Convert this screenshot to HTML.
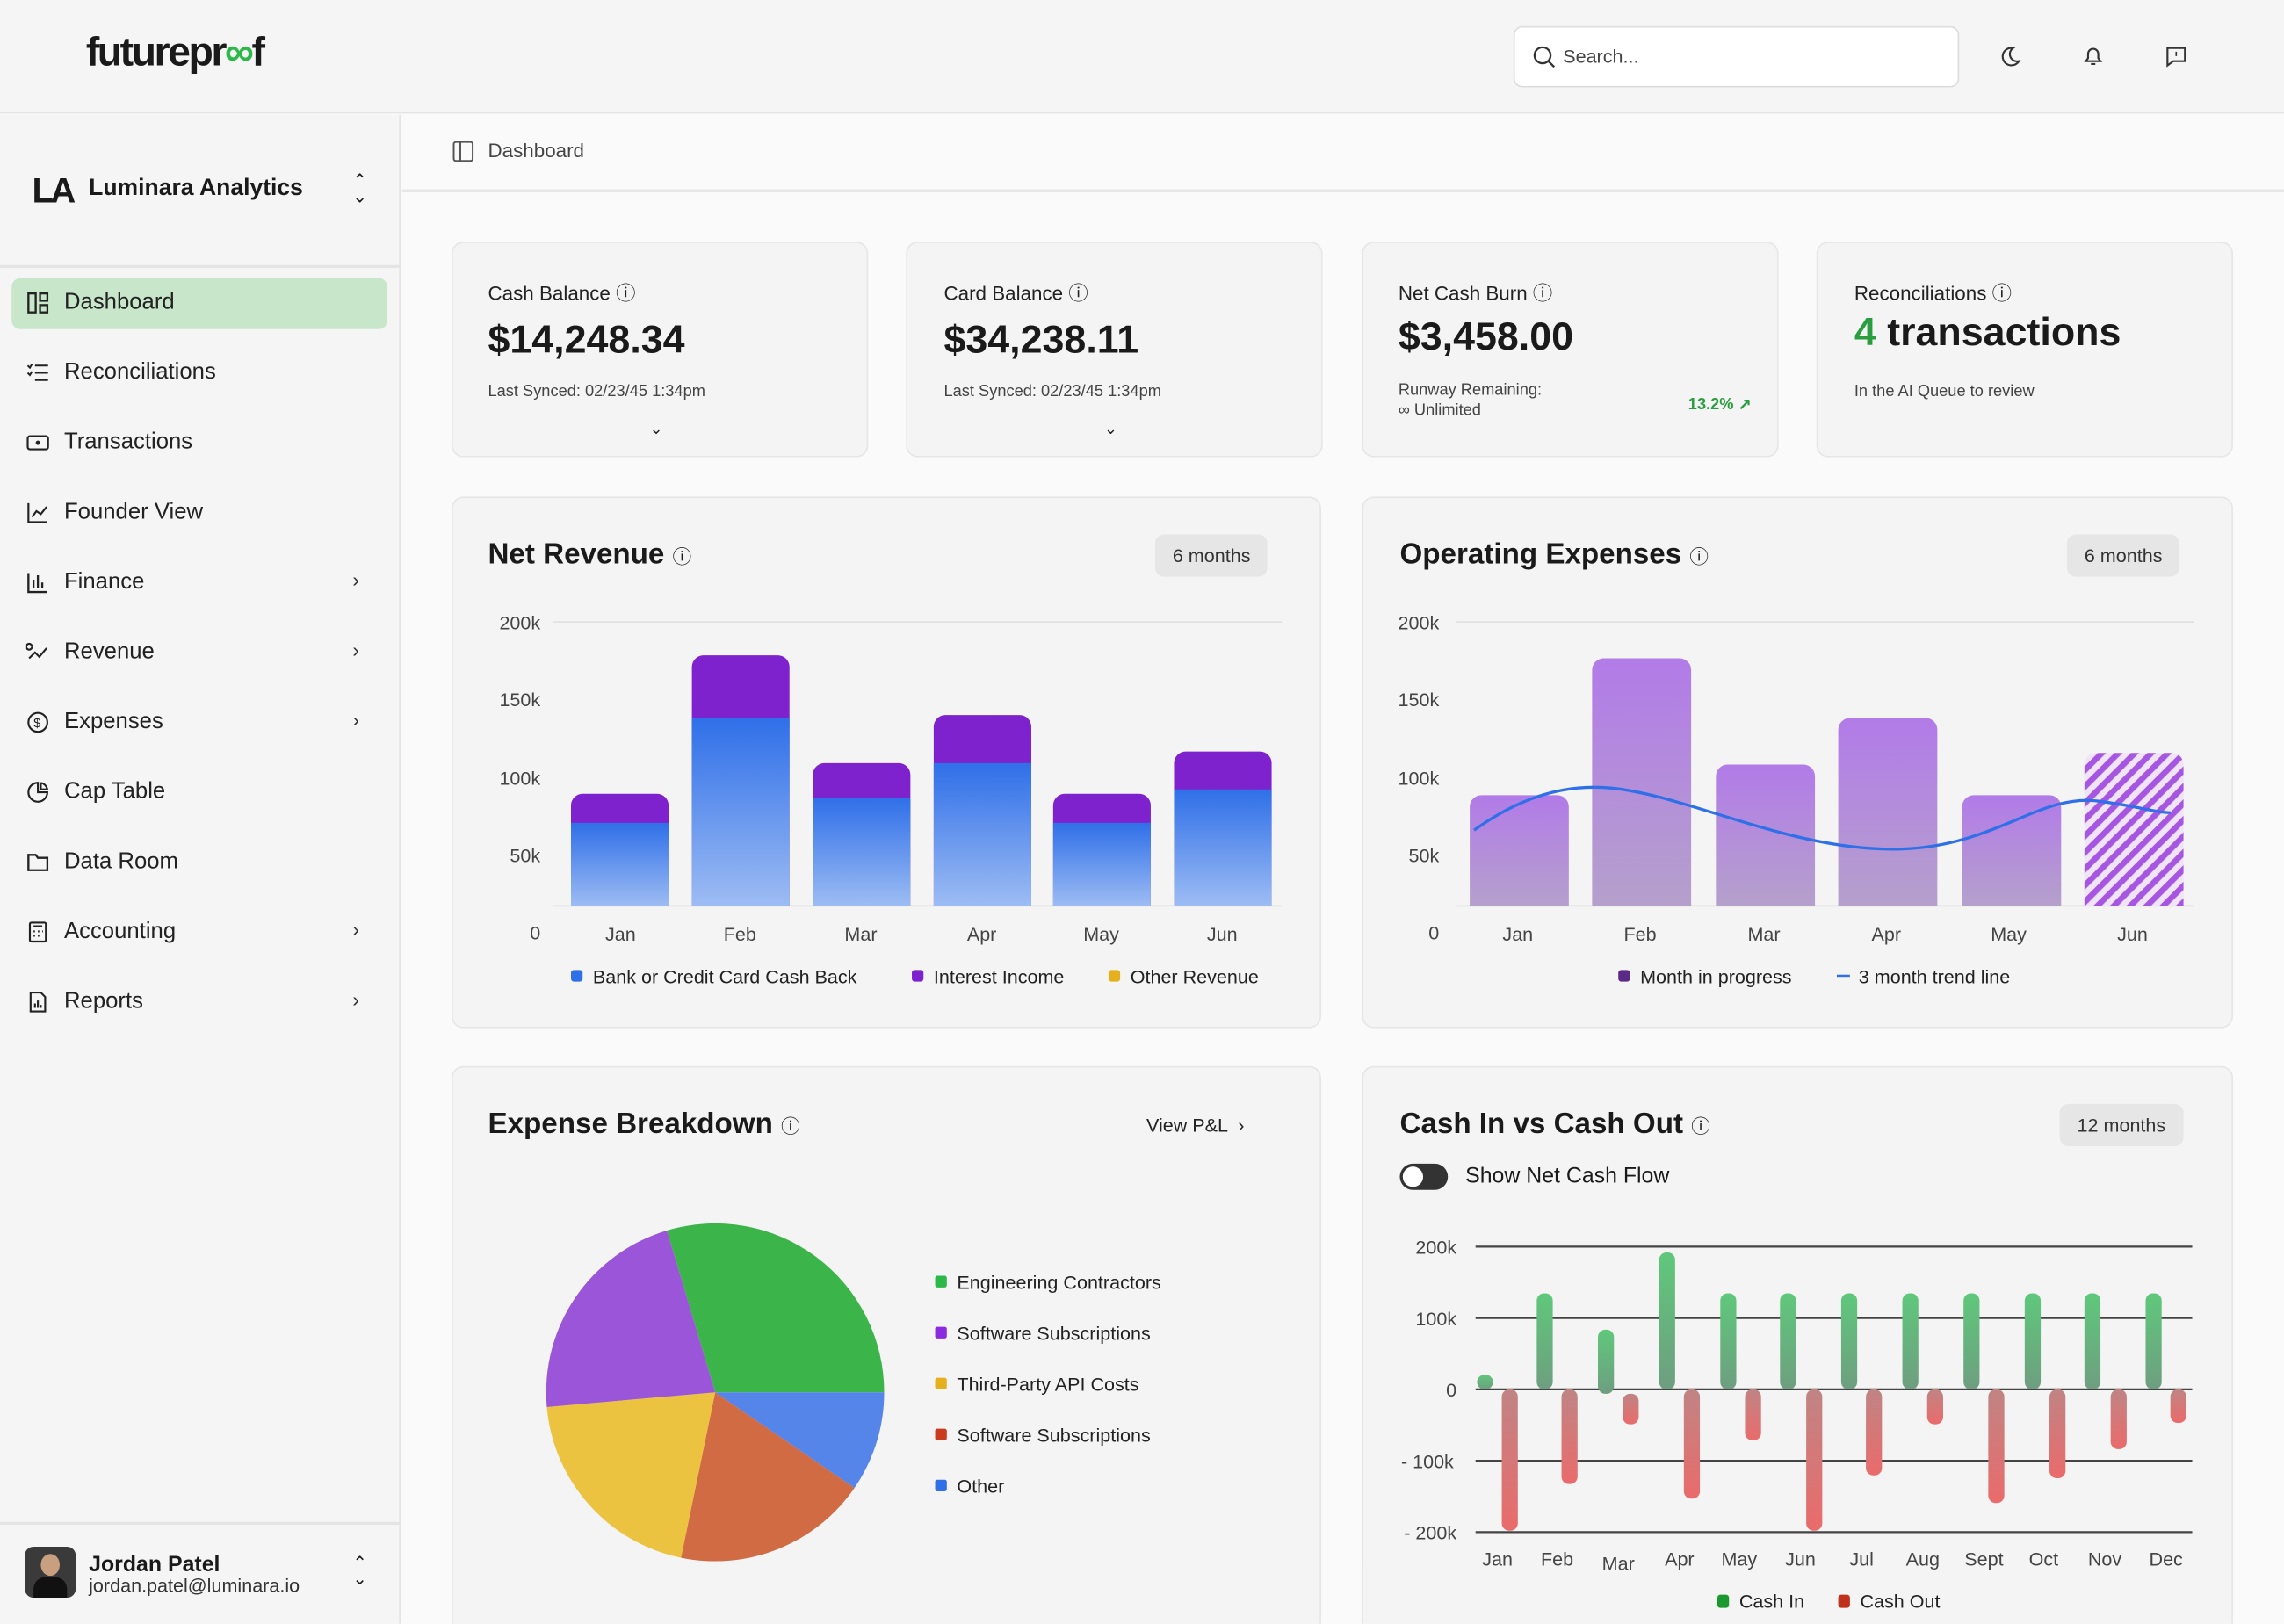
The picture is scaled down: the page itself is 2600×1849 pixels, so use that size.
<!DOCTYPE html>
<html><head><meta charset="utf-8"><style>
*{margin:0;padding:0;box-sizing:border-box}
html,body{width:2600px;height:1849px;overflow:hidden;background:#fafafa}
#w{position:absolute;left:0;top:0;width:1568px;height:1115px;transform:scale(1.65816);transform-origin:0 0;font-family:"Liberation Sans",sans-serif;color:#1a1a1a;background:#fafafa;overflow:hidden}
.a{position:absolute}
.card{position:absolute;background:#f4f4f4;border:1.5px solid #e6e6e6;border-radius:8px}
.nav{position:absolute;left:18px;font-size:15.5px;color:#222;display:flex;align-items:center;gap:10px}
.nav svg{width:16px;height:16px}
.chev{position:absolute;left:242px;font-size:14px;color:#333}
.t{position:absolute;font-size:13px;color:#222}
.pill{position:absolute;background:#e6e6e6;border-radius:6px;font-size:13px;color:#333;padding:7px 12px}
.lg{display:inline-block;width:8px;height:8px;border-radius:2px;margin-right:6px;vertical-align:0px}
</style></head><body><div id="w">
<!-- header -->
<div class="a" style="left:0;top:0;width:1568px;height:78px;background:#f5f5f5;border-bottom:1.5px solid #e4e4e4"></div>
<div class="a" style="left:59px;top:20px;font-size:28px;font-weight:bold;letter-spacing:-1.5px">futurepr<span style="color:#2db84a">∞</span>f</div>
<div class="a" style="left:1039px;top:18px;width:306px;height:42px;background:#fff;border:1px solid #ddd;border-radius:6px"></div>
<svg class="a" style="left:1052px;top:31px" width="16" height="16"><circle cx="7" cy="7" r="5.5" fill="none" stroke="#333" stroke-width="1.4"/><line x1="11" y1="11" x2="15" y2="15" stroke="#333" stroke-width="1.4"/></svg>
<div class="a" style="left:1073px;top:31px;font-size:13px;color:#444">Search...</div>
<svg class="a" style="left:1372px;top:31px" width="16" height="16"><path d="M10 2a6 6 0 1 0 4 9a5 5 0 0 1-4-9z" fill="none" stroke="#333" stroke-width="1.3"/></svg>
<svg class="a" style="left:1429px;top:30px" width="16" height="16"><path d="M3 12h10l-1.5-2V7a3.5 3.5 0 0 0-7 0v3z M6.5 14h3" fill="none" stroke="#333" stroke-width="1.3"/></svg>
<svg class="a" style="left:1486px;top:31px" width="16" height="16"><path d="M2 2h12v9H6l-4 3z" fill="none" stroke="#333" stroke-width="1.3"/><line x1="8" y1="4.5" x2="8" y2="7.5" stroke="#333"/></svg>
<!-- sidebar -->
<div class="a" style="left:0;top:79px;width:275px;height:1036px;background:#f5f5f5;border-right:1.5px solid #e4e4e4"></div>
<div class="a" style="left:0;top:182px;width:275px;height:1.5px;background:#e4e4e4"></div>
<div class="a" style="left:22px;top:118px;font-size:24px;font-weight:bold;letter-spacing:-2px">LA</div>
<div class="a" style="left:61px;top:121px;font-size:16px;font-weight:bold">Luminara Analytics</div>
<div class="a" style="left:242px;top:119px;font-size:12px;line-height:11px">⌃<br>⌄</div>
<div class="a" style="left:8px;top:191px;width:258px;height:35px;background:#c8e6c9;border-radius:6px"></div>
<div class="nav" style="top:199px"><svg viewBox="0 0 16 16"><rect x="1.5" y="1.5" width="5" height="13" fill="none" stroke="#222" stroke-width="1.4"/><rect x="9.5" y="1.5" width="5" height="5" fill="none" stroke="#222" stroke-width="1.4"/><rect x="9.5" y="9.5" width="5" height="5" fill="none" stroke="#222" stroke-width="1.4"/></svg>Dashboard</div>
<div class="nav" style="top:247px"><svg viewBox="0 0 16 16"><path d="M6 3h9M6 8h9M6 13h9M1 3l1.5 1.5L4 2M1 8l1.5 1.5L4 7" fill="none" stroke="#222" stroke-width="1.2"/></svg>Reconciliations</div>
<div class="nav" style="top:295px"><svg viewBox="0 0 16 16"><rect x="1" y="3.5" width="14" height="9" rx="1.5" fill="none" stroke="#222" stroke-width="1.3"/><circle cx="8" cy="8" r="1.5" fill="#222"/></svg>Transactions</div>
<div class="nav" style="top:343px"><svg viewBox="0 0 16 16"><path d="M1.5 1.5v13h13M4 11l3-4 3 2 4-5" fill="none" stroke="#222" stroke-width="1.3"/></svg>Founder View</div>
<div class="nav" style="top:391px"><svg viewBox="0 0 16 16"><path d="M1.5 1.5v13h13M5 12V6M8 12V3M11 12V8" fill="none" stroke="#222" stroke-width="1.4"/></svg>Finance</div>
<div class="nav" style="top:439px"><svg viewBox="0 0 16 16"><path d="M2 12l4-4 3 3 5-6M4 4a2 2 0 1 0 0 .1" fill="none" stroke="#222" stroke-width="1.3"/></svg>Revenue</div>
<div class="nav" style="top:487px"><svg viewBox="0 0 16 16"><circle cx="8" cy="8" r="6.5" fill="none" stroke="#222" stroke-width="1.3"/><text x="5" y="11.5" font-size="9" fill="#222">$</text></svg>Expenses</div>
<div class="nav" style="top:535px"><svg viewBox="0 0 16 16"><path d="M8 1.5A6.5 6.5 0 1 0 14.5 8H8z M10 1.5v4.5h4.5A6 6 0 0 0 10 1.5" fill="none" stroke="#222" stroke-width="1.3"/></svg>Cap Table</div>
<div class="nav" style="top:583px"><svg viewBox="0 0 16 16"><path d="M1.5 3h5l1.5 2h6.5v8.5h-13z" fill="none" stroke="#222" stroke-width="1.4"/></svg>Data Room</div>
<div class="nav" style="top:631px"><svg viewBox="0 0 16 16"><rect x="2.5" y="1.5" width="11" height="13" rx="1" fill="none" stroke="#222" stroke-width="1.3"/><path d="M5 4h6M5 7.5h1M8 7.5h1M11 7.5h0.5M5 10.5h1M8 10.5h1" stroke="#222" stroke-width="1.3"/></svg>Accounting</div>
<div class="nav" style="top:679px"><svg viewBox="0 0 16 16"><path d="M3 1.5h7l3 3v10H3z M6 12V9M8 12V7M10 12v-2" fill="none" stroke="#222" stroke-width="1.3"/></svg>Reports</div>
<div class="chev" style="top:390px">›</div><div class="chev" style="top:438px">›</div><div class="chev" style="top:486px">›</div><div class="chev" style="top:630px">›</div><div class="chev" style="top:678px">›</div>
<div class="a" style="left:0;top:1045px;width:275px;height:1.5px;background:#e4e4e4"></div>
<div class="a" style="left:17px;top:1062px;width:35px;height:35px;border-radius:6px;background:#3a3a3a"><div style="position:absolute;left:11px;top:5px;width:13px;height:15px;border-radius:50%;background:#c9a07f"></div><div style="position:absolute;left:6px;top:21px;width:23px;height:14px;border-radius:8px 8px 0 0;background:#111"></div></div>
<div class="a" style="left:61px;top:1066px;font-size:15px;font-weight:bold">Jordan Patel</div>
<div class="a" style="left:61px;top:1081px;font-size:13px;color:#333">jordan.patel@luminara.io</div>
<div class="a" style="left:242px;top:1068px;font-size:12px;line-height:11px">⌃<br>⌄</div>
<!-- breadcrumb -->
<div class="a" style="left:276px;top:130px;width:1292px;height:1.5px;background:#e6e6e6"></div>
<svg class="a" style="left:310px;top:96px" width="16" height="16"><rect x="1.5" y="1.5" width="13" height="13" rx="1.5" fill="none" stroke="#555" stroke-width="1.2"/><line x1="6" y1="1.5" x2="6" y2="14.5" stroke="#555" stroke-width="1.2"/></svg>
<div class="a" style="left:335px;top:96px;font-size:13.5px;color:#444">Dashboard</div>
<!-- stat cards -->
<div class="card" style="left:310px;top:166px;width:286px;height:148px"></div>
<div class="card" style="left:622px;top:166px;width:286px;height:148px"></div>
<div class="card" style="left:935px;top:166px;width:286px;height:148px"></div>
<div class="card" style="left:1247px;top:166px;width:286px;height:148px"></div>
<div class="t" style="left:335px;top:190px;font-size:13.5px">Cash Balance ⓘ</div>
<div class="a" style="left:335px;top:218px;font-size:27px;font-weight:bold">$14,248.34</div>
<div class="t" style="left:335px;top:263px;font-size:11px;color:#444">Last Synced: 02/23/45 1:34pm</div>
<div class="t" style="left:446px;top:288px;font-size:11px">⌄</div>
<div class="t" style="left:648px;top:190px;font-size:13.5px">Card Balance ⓘ</div>
<div class="a" style="left:648px;top:218px;font-size:27px;font-weight:bold">$34,238.11</div>
<div class="t" style="left:648px;top:263px;font-size:11px;color:#444">Last Synced: 02/23/45 1:34pm</div>
<div class="t" style="left:758px;top:288px;font-size:11px">⌄</div>
<div class="t" style="left:960px;top:190px;font-size:13.5px">Net Cash Burn ⓘ</div>
<div class="a" style="left:960px;top:216px;font-size:27px;font-weight:bold">$3,458.00</div>
<div class="t" style="left:960px;top:261px;font-size:11px;color:#444;line-height:14px">Runway Remaining:<br>∞ Unlimited</div>
<div class="t" style="left:1159px;top:271px;font-size:11px;color:#2a9d3f;font-weight:bold">13.2% ↗</div>
<div class="t" style="left:1273px;top:190px;font-size:13.5px">Reconciliations ⓘ</div>
<div class="a" style="left:1273px;top:213px;font-size:27px;font-weight:bold"><span style="color:#2a9d3f">4</span> transactions</div>
<div class="t" style="left:1273px;top:263px;font-size:11px;color:#444">In the AI Queue to review</div>
<!-- panels -->
<div class="card" style="left:310px;top:341px;width:597px;height:365px"></div>
<div class="card" style="left:935px;top:341px;width:598px;height:365px"></div>
<div class="card" style="left:310px;top:732px;width:597px;height:400px"></div>
<div class="card" style="left:935px;top:732px;width:598px;height:400px"></div>
<div class="a" style="left:335px;top:370px;font-size:20px;font-weight:bold">Net Revenue <span style="font-size:13px;font-weight:normal">ⓘ</span></div>
<div class="pill" style="left:793px;top:367px">6 months</div>
<div class="a" style="left:961px;top:370px;font-size:20px;font-weight:bold">Operating Expenses <span style="font-size:13px;font-weight:normal">ⓘ</span></div>
<div class="pill" style="left:1419px;top:367px">6 months</div>
<div class="a" style="left:335px;top:761px;font-size:20px;font-weight:bold">Expense Breakdown <span style="font-size:13px;font-weight:normal">ⓘ</span></div>
<div class="t" style="left:787px;top:765px">View P&amp;L &nbsp;›</div>
<div class="a" style="left:961px;top:761px;font-size:20px;font-weight:bold">Cash In vs Cash Out <span style="font-size:13px;font-weight:normal">ⓘ</span></div>
<div class="pill" style="left:1414px;top:758px">12 months</div>
<div class="a" style="left:961px;top:799px;width:33px;height:18px;border-radius:9px;background:#333"><div style="position:absolute;left:2px;top:2px;width:14px;height:14px;border-radius:50%;background:#fff"></div></div>
<div class="a" style="left:1006px;top:799px;font-size:15px">Show Net Cash Flow</div>

<svg class="a" style="left:0;top:0" width="1568" height="1115" font-family="Liberation Sans, sans-serif" font-size="13" fill="#444">
<defs>
<linearGradient id="bl" x1="0" y1="0" x2="0" y2="1"><stop offset="0" stop-color="#2f6fe8"/><stop offset="1" stop-color="#9dbcf3"/></linearGradient>
<linearGradient id="pu" x1="0" y1="0" x2="0" y2="1"><stop offset="0" stop-color="#b27be8"/><stop offset="1" stop-color="#b5a0cc"/></linearGradient>
<linearGradient id="gr" x1="0" y1="0" x2="0" y2="1"><stop offset="0" stop-color="#5fc87b"/><stop offset="1" stop-color="#6e9e80"/></linearGradient>
<linearGradient id="rd" x1="0" y1="0" x2="0" y2="1"><stop offset="0" stop-color="#c08484"/><stop offset="1" stop-color="#ea6b6b"/></linearGradient>
<pattern id="hat" width="8" height="8" patternUnits="userSpaceOnUse" patternTransform="rotate(45)"><rect width="8" height="8" fill="#efe4fa"/><rect width="4" height="8" fill="#a656e0"/></pattern>
</defs>
<!-- Net revenue -->
<g stroke="#e0e0e0" stroke-width="1"><line x1="380" y1="427" x2="880" y2="427"/><line x1="380" y1="622" x2="880" y2="622"/></g>
<g text-anchor="end"><text x="371" y="432">200k</text><text x="371" y="485">150k</text><text x="371" y="539">100k</text><text x="371" y="592">50k</text><text x="371" y="645">0</text></g>
<g>
<path d="M392 622V553a8 8 0 0 1 8-8h51a8 8 0 0 1 8 8V622z" fill="#7e22ce"/><rect x="392" y="565" width="67" height="57" fill="url(#bl)"/>
<path d="M475 622V458a8 8 0 0 1 8-8h51a8 8 0 0 1 8 8V622z" fill="#7e22ce"/><rect x="475" y="493" width="67" height="129" fill="url(#bl)"/>
<path d="M558 622V532a8 8 0 0 1 8-8h51a8 8 0 0 1 8 8V622z" fill="#7e22ce"/><rect x="558" y="548" width="67" height="74" fill="url(#bl)"/>
<path d="M641 622V499a8 8 0 0 1 8-8h51a8 8 0 0 1 8 8V622z" fill="#7e22ce"/><rect x="641" y="524" width="67" height="98" fill="url(#bl)"/>
<path d="M723 622V553a8 8 0 0 1 8-8h51a8 8 0 0 1 8 8V622z" fill="#7e22ce"/><rect x="723" y="565" width="67" height="57" fill="url(#bl)"/>
<path d="M806 622V524a8 8 0 0 1 8-8h51a8 8 0 0 1 8 8V622z" fill="#7e22ce"/><rect x="806" y="542" width="67" height="80" fill="url(#bl)"/>
</g>
<g text-anchor="middle"><text x="426" y="646">Jan</text><text x="508" y="646">Feb</text><text x="591" y="646">Mar</text><text x="674" y="646">Apr</text><text x="756" y="646">May</text><text x="839" y="646">Jun</text></g>
<g fill="#222"><rect x="392" y="666" width="8" height="8" rx="2" fill="#2f6fe8"/><text x="407" y="675">Bank or Credit Card Cash Back</text>
<rect x="626" y="666" width="8" height="8" rx="2" fill="#7e22ce"/><text x="641" y="675">Interest Income</text>
<rect x="761" y="666" width="8" height="8" rx="2" fill="#e5b01c"/><text x="776" y="675">Other Revenue</text></g>
<!-- Opex -->
<g stroke="#e0e0e0"><line x1="1000" y1="427" x2="1506" y2="427"/><line x1="1000" y1="622" x2="1506" y2="622"/></g>
<g text-anchor="end"><text x="988" y="432">200k</text><text x="988" y="485">150k</text><text x="988" y="539">100k</text><text x="988" y="592">50k</text><text x="988" y="645">0</text></g>
<path d="M1009 622V554a8 8 0 0 1 8-8h52a8 8 0 0 1 8 8V622z" fill="url(#pu)"/>
<path d="M1093 622V460a8 8 0 0 1 8-8h52a8 8 0 0 1 8 8V622z" fill="url(#pu)"/>
<path d="M1178 622V533a8 8 0 0 1 8-8h52a8 8 0 0 1 8 8V622z" fill="url(#pu)"/>
<path d="M1262 622V501a8 8 0 0 1 8-8h52a8 8 0 0 1 8 8V622z" fill="url(#pu)"/>
<path d="M1347 622V554a8 8 0 0 1 8-8h52a8 8 0 0 1 8 8V622z" fill="url(#pu)"/>
<path d="M1431 622V525a8 8 0 0 1 8-8h52a8 8 0 0 1 8 8V622z" fill="url(#hat)"/>
<path d="M1012 570C1040 550 1070 538 1105 541C1160 546 1230 585 1305 583C1370 581 1400 545 1440 550C1465 553 1480 558 1490 558" fill="none" stroke="#2f6fe8" stroke-width="2"/>
<g text-anchor="middle"><text x="1042" y="646">Jan</text><text x="1126" y="646">Feb</text><text x="1211" y="646">Mar</text><text x="1295" y="646">Apr</text><text x="1379" y="646">May</text><text x="1464" y="646">Jun</text></g>
<g fill="#222"><rect x="1111" y="666" width="8" height="8" rx="2" fill="#5b2a86"/><text x="1126" y="675">Month in progress</text>
<line x1="1261" y1="670" x2="1270" y2="670" stroke="#2f6fe8" stroke-width="1.5"/><text x="1276" y="675">3 month trend line</text></g>
<!-- Pie -->
<path d="M491 956L457.8 844.9A116 116 0 0 1 607 956z" fill="#3bb54a"/>
<path d="M491 956L607 956A116 116 0 0 1 586.6 1021.7z" fill="#5585e8"/>
<path d="M491 956L586.6 1021.7A116 116 0 0 1 467.5 1069.6z" fill="#d06b44"/>
<path d="M491 956L467.5 1069.6A116 116 0 0 1 375.4 966.1z" fill="#ecc241"/>
<path d="M491 956L375.4 966.1A116 116 0 0 1 457.8 844.9z" fill="#9b55d8"/>
<g fill="#222"><rect x="642" y="876" width="8" height="8" rx="1.5" fill="#2db84a"/><text x="657" y="885">Engineering Contractors</text>
<rect x="642" y="911" width="8" height="8" rx="1.5" fill="#8a2be2"/><text x="657" y="920">Software Subscriptions</text>
<rect x="642" y="946" width="8" height="8" rx="1.5" fill="#e5b01c"/><text x="657" y="955">Third-Party API Costs</text>
<rect x="642" y="981" width="8" height="8" rx="1.5" fill="#cc3a1e"/><text x="657" y="990">Software Subscriptions</text>
<rect x="642" y="1016" width="8" height="8" rx="1.5" fill="#2f6fe8"/><text x="657" y="1025">Other</text></g>
<!-- Cash in/out -->
<g stroke="#444" stroke-width="1.3"><line x1="1013" y1="856" x2="1505" y2="856"/><line x1="1013" y1="905" x2="1505" y2="905"/><line x1="1013" y1="954" x2="1505" y2="954"/><line x1="1013" y1="1003" x2="1505" y2="1003"/><line x1="1013" y1="1052" x2="1505" y2="1052"/></g>
<g text-anchor="end"><text x="1000" y="861">200k</text><text x="1000" y="910">100k</text><text x="1000" y="959">0</text><text x="998" y="1008">- 100k</text><text x="1000" y="1057">- 200k</text></g>
<g fill="url(#gr)">
<rect x="1014" y="944" width="11" height="10" rx="5"/>
<rect x="1055" y="888" width="11" height="66" rx="5"/>
<rect x="1097" y="913" width="11" height="44" rx="5"/>
<rect x="1139" y="860" width="11" height="94" rx="5"/>
<rect x="1181" y="888" width="11" height="66" rx="5"/>
<rect x="1222" y="888" width="11" height="66" rx="5"/>
<rect x="1264" y="888" width="11" height="66" rx="5"/>
<rect x="1306" y="888" width="11" height="66" rx="5"/>
<rect x="1348" y="888" width="11" height="66" rx="5"/>
<rect x="1390" y="888" width="11" height="66" rx="5"/>
<rect x="1431" y="888" width="11" height="66" rx="5"/>
<rect x="1473" y="888" width="11" height="66" rx="5"/>
</g>
<g fill="url(#rd)">
<rect x="1031" y="954" width="11" height="97" rx="5"/>
<rect x="1072" y="954" width="11" height="65" rx="5"/>
<rect x="1114" y="957" width="11" height="21" rx="5"/>
<rect x="1156" y="954" width="11" height="75" rx="5"/>
<rect x="1198" y="954" width="11" height="35" rx="5"/>
<rect x="1240" y="954" width="11" height="97" rx="5"/>
<rect x="1281" y="954" width="11" height="59" rx="5"/>
<rect x="1323" y="954" width="11" height="24" rx="5"/>
<rect x="1365" y="954" width="11" height="78" rx="5"/>
<rect x="1407" y="954" width="11" height="61" rx="5"/>
<rect x="1449" y="954" width="11" height="41" rx="5"/>
<rect x="1490" y="954" width="11" height="23" rx="5"/>
</g>
<g text-anchor="middle"><text x="1028" y="1075">Jan</text><text x="1069" y="1075">Feb</text><text x="1111" y="1078">Mar</text><text x="1153" y="1075">Apr</text><text x="1194" y="1075">May</text><text x="1236" y="1075">Jun</text><text x="1278" y="1075">Jul</text><text x="1320" y="1075">Aug</text><text x="1362" y="1075">Sept</text><text x="1403" y="1075">Oct</text><text x="1445" y="1075">Nov</text><text x="1487" y="1075">Dec</text></g>
<g fill="#222"><rect x="1179" y="1095" width="8" height="9" rx="2" fill="#1a9a2e"/><text x="1194" y="1104">Cash In</text>
<rect x="1262" y="1095" width="8" height="9" rx="2" fill="#c0301c"/><text x="1277" y="1104">Cash Out</text></g>
</svg>
</div></body></html>
